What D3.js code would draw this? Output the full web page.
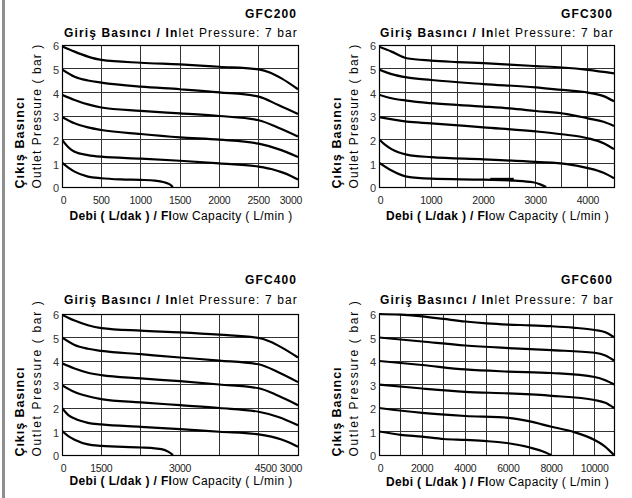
<!DOCTYPE html>
<html>
<head>
<meta charset="utf-8">
<script src="https://cdn.jsdelivr.net/npm/d3@7"></script>
<style>
  html, body { margin: 0; padding: 0; background: #fff; }
  svg { display: block; }
  text { font-family: "Liberation Sans", Arial, Helvetica, sans-serif; }
</style>
</head>
<body>
<svg id="chart" width="632" height="498"></svg>
<script>
// ---------------- DATA ----------------
const titles = ["GFC200", "GFC300", "GFC400", "GFC600"];
const subtitleBold = "Giriş Basıncı / In";
const subtitleNormal = "let Pressure: 7 bar";
const xLabelBold = "Debi ( L/dak ) / Fl";
const xLabelNormal = "ow Capacity ( L/min )";
const yLabelBold = "Çıkış Basıncı";
const yLabelNormal = "Outlet Pressure ( bar )";

const yTicks = [0, 1, 2, 3, 4, 5, 6];
const xMax = [3000, 4500, 3000, 10900];

const xGrid200 = [0, 500, 1000, 1500, 2000, 2500, 3000];
const xGrid300 = [0, 500, 1000, 1500, 2000, 2500, 3000, 3500, 4000, 4500];
const xGrid400 = [0, 500, 1000, 1500, 2000, 2500, 3000];
const xGrid600 = [0, 1000, 2000, 3000, 4000, 5000, 6000, 7000, 8000, 9000, 10000, 10900];

const xTickPos200 = [0, 500, 1000, 1500, 2000, 2500, 3000];
const xTickLab200 = ["0", "500", "1000", "1500", "2000", "2500", "3000"];
const xTickPos300 = [0, 1000, 2000, 3000, 4000];
const xTickLab300 = ["0", "1000", "2000", "3000", "4000"];
const xTickPos400 = [0, 500, 1500, 2590, 3000];
const xTickLab400 = ["0", "1500", "3000", "4500", "3000"];
const xTickPos600 = [0, 2000, 4000, 6000, 8000, 10000];
const xTickLab600 = ["0", "2000", "4000", "6000", "8000", "10000"];

// GFC200 curves (flow L/min, outlet bar)
const gfc200_6 = [[0,5.95],[160,5.72],[330,5.51],[500,5.37],[1000,5.25],[1500,5.18],[2000,5.08],[2500,4.97],[2650,4.83],[2790,4.59],[3000,4.13]];
const gfc200_5 = [[0,4.97],[160,4.66],[330,4.5],[500,4.41],[1000,4.24],[1500,4.13],[2000,4.0],[2500,3.82],[2750,3.46],[3000,3.08]];
const gfc200_4 = [[0,3.9],[160,3.68],[330,3.49],[500,3.36],[1000,3.22],[1500,3.11],[2000,3.0],[2500,2.82],[2750,2.5],[3000,2.13]];
const gfc200_3 = [[0,2.96],[160,2.69],[330,2.52],[500,2.41],[1000,2.24],[1500,2.1],[2000,2.0],[2500,1.83],[2750,1.6],[3000,1.27]];
const gfc200_2 = [[0,2.0],[80,1.68],[160,1.49],[330,1.35],[500,1.28],[1000,1.2],[1500,1.11],[2000,1.0],[2500,0.86],[2660,0.76],[2790,0.63],[2910,0.47],[3000,0.32]];
const gfc200_1 = [[0,1.03],[80,0.82],[160,0.65],[330,0.44],[500,0.37],[750,0.32],[1000,0.3],[1180,0.27],[1300,0.2],[1370,0.11],[1410,0]];

// GFC300 curves
const gfc300_6 = [[0,5.93],[240,5.72],[530,5.44],[1000,5.34],[1500,5.28],[2000,5.23],[2500,5.17],[3000,5.11],[3500,5.05],[4000,4.95],[4500,4.8]];
const gfc300_5 = [[0,4.96],[240,4.77],[530,4.63],[1000,4.52],[2000,4.35],[3000,4.21],[3500,4.1],[4000,3.99],[4300,3.84],[4500,3.62]];
const gfc300_4 = [[0,3.9],[240,3.75],[530,3.65],[1000,3.54],[2000,3.4],[2500,3.32],[3000,3.21],[3600,3.08],[4000,2.9],[4300,2.76],[4500,2.58]];
const gfc300_3 = [[0,2.95],[530,2.76],[1000,2.69],[2000,2.52],[3000,2.35],[3500,2.23],[4000,2.06],[4300,1.85],[4500,1.6]];
const gfc300_2 = [[0,2.02],[120,1.78],[240,1.6],[530,1.37],[1000,1.26],[2000,1.17],[3000,1.06],[3600,0.97],[4000,0.8],[4300,0.6],[4500,0.37]];
const gfc300_1 = [[0,1.03],[240,0.7],[530,0.44],[1000,0.35],[2000,0.31],[2600,0.27],[2950,0.2],[3100,0.1],[3200,0]];
const gfc300_mark = [[2130,0.32],[2580,0.32]];

// GFC400 curves (axis as printed: 0 .. 3000)
const gfc400_6 = [[0,5.97],[160,5.72],[330,5.52],[500,5.4],[1000,5.29],[1500,5.22],[2000,5.12],[2500,4.98],[2650,4.82],[2790,4.58],[3000,4.15]];
const gfc400_5 = [[0,5.0],[160,4.68],[330,4.52],[500,4.43],[1000,4.29],[1500,4.15],[2000,4.02],[2500,3.86],[2750,3.52],[3000,3.1]];
const gfc400_4 = [[0,3.9],[160,3.68],[330,3.5],[500,3.4],[1000,3.26],[1500,3.14],[2000,3.0],[2500,2.84],[2750,2.52],[3000,2.12]];
const gfc400_3 = [[0,2.97],[160,2.68],[330,2.5],[500,2.38],[1000,2.24],[1500,2.12],[2000,2.0],[2500,1.84],[2750,1.62],[3000,1.27]];
const gfc400_2 = [[0,2.0],[80,1.7],[160,1.55],[330,1.37],[500,1.3],[1000,1.2],[1500,1.1],[2000,0.99],[2500,0.88],[2660,0.78],[2790,0.66],[2910,0.5],[3000,0.35]];
const gfc400_1 = [[0,1.03],[80,0.8],[160,0.65],[330,0.45],[500,0.39],[1000,0.32],[1180,0.28],[1300,0.22],[1360,0.12],[1410,0]];

// GFC600 curves
const gfc600_6 = [[0,6.0],[1000,5.97],[2000,5.9],[3000,5.79],[4000,5.68],[5000,5.6],[6000,5.55],[7000,5.52],[8000,5.48],[9000,5.42],[10000,5.32],[10500,5.22],[10900,5.01]];
const gfc600_5 = [[0,5.0],[2000,4.83],[4000,4.66],[6000,4.55],[8000,4.46],[10000,4.35],[10500,4.23],[10900,4.02]];
const gfc600_4 = [[0,4.0],[2000,3.83],[4000,3.64],[6000,3.55],[8000,3.49],[10000,3.32],[10500,3.18],[10900,3.0]];
const gfc600_3 = [[0,3.0],[2000,2.83],[4000,2.69],[6000,2.62],[8000,2.52],[10000,2.34],[10500,2.22],[10900,2.0]];
const gfc600_2 = [[0,2.0],[2000,1.79],[4000,1.66],[6000,1.58],[7000,1.43],[8000,1.2],[9000,0.99],[10000,0.64],[10500,0.35],[10900,0]];
const gfc600_1 = [[0,1.0],[1000,0.86],[2000,0.78],[3000,0.68],[4000,0.64],[5000,0.59],[6000,0.5],[7000,0.32],[7700,0.12],[7980,0]];

// ---------------- LAYOUT ----------------
const layout = [
  {left: 62, right: 298, top: 45, bottom: 187, titleY: 17.5, subY: 36.7, xLabY: 220, yLen: 145, yBoldLen: 92},
  {left: 379, right: 614, top: 45, bottom: 187, titleY: 17.5, subY: 36.7, xLabY: 220, yLen: 145, yBoldLen: 92},
  {left: 62, right: 298, top: 314, bottom: 455, titleY: 284, subY: 304.3, xLabY: 485, yLen: 157, yBoldLen: 90},
  {left: 379, right: 614, top: 314, bottom: 455, titleY: 284, subY: 304.3, xLabY: 486, yLen: 157, yBoldLen: 90}
];

const panels = [
  {grid: xGrid200, tickPos: xTickPos200, tickLab: xTickLab200, curves: [gfc200_1, gfc200_2, gfc200_3, gfc200_4, gfc200_5, gfc200_6], marks: []},
  {grid: xGrid300, tickPos: xTickPos300, tickLab: xTickLab300, curves: [gfc300_1, gfc300_2, gfc300_3, gfc300_4, gfc300_5, gfc300_6], marks: [gfc300_mark]},
  {grid: xGrid400, tickPos: xTickPos400, tickLab: xTickLab400, curves: [gfc400_1, gfc400_2, gfc400_3, gfc400_4, gfc400_5, gfc400_6], marks: []},
  {grid: xGrid600, tickPos: xTickPos600, tickLab: xTickLab600, curves: [gfc600_1, gfc600_2, gfc600_3, gfc600_4, gfc600_5, gfc600_6], marks: []}
];

// ---------------- DRAW ----------------
const svg = d3.select("#chart");
svg.append("rect").attr("x", 0).attr("y", 0).attr("width", 632).attr("height", 498).attr("fill", "#fff");
svg.append("rect").attr("x", 2).attr("y", 0).attr("width", 3).attr("height", 498).attr("fill", "#8e8e8e");

function fitText(t, target) {
  const w = t.node().getComputedTextLength();
  const n = t.text().length;
  if (n > 1) t.attr("letter-spacing", ((target - w) / n).toFixed(3));
}
const crisp = v => Math.round(v - 0.5) + 0.5;

panels.forEach((p, i) => {
  const L = layout[i];
  const x = d3.scaleLinear().domain([0, xMax[i]]).range([L.left, L.right]);
  const y = d3.scaleLinear().domain([0, 6]).range([L.bottom, L.top]);
  const g = svg.append("g");

  const clipId = "clip" + i;
  svg.append("clipPath").attr("id", clipId).append("rect")
    .attr("x", L.left).attr("y", L.top - 2).attr("width", L.right - L.left + 1).attr("height", L.bottom - L.top + 3);

  // grid
  g.selectAll("line.vg").data(p.grid).join("line")
    .attr("x1", d => crisp(x(d))).attr("x2", d => crisp(x(d)))
    .attr("y1", L.top).attr("y2", L.bottom)
    .attr("stroke", "#333").attr("stroke-width", 1);
  g.selectAll("line.hg").data(yTicks).join("line")
    .attr("y1", d => crisp(y(d))).attr("y2", d => crisp(y(d)))
    .attr("x1", L.left).attr("x2", L.right)
    .attr("stroke", "#333").attr("stroke-width", 1);

  // border
  g.append("rect")
    .attr("x", crisp(x(0))).attr("y", crisp(y(6)))
    .attr("width", crisp(x(xMax[i])) - crisp(x(0))).attr("height", crisp(y(0)) - crisp(y(6)))
    .attr("fill", "none").attr("stroke", "#000").attr("stroke-width", 1.2);

  // curves
  const line = d3.line().x(d => x(d[0])).y(d => y(d[1])).curve(d3.curveMonotoneX);
  const cg = g.append("g").attr("clip-path", `url(#${clipId})`);
  cg.selectAll("path.curve").data(p.curves).join("path")
    .attr("d", line).attr("fill", "none").attr("stroke", "#000")
    .attr("stroke-width", 2.2).attr("stroke-linejoin", "round");
  cg.selectAll("path.mark").data(p.marks).join("path")
    .attr("d", d3.line().x(d => x(d[0])).y(d => y(d[1])))
    .attr("fill", "none").attr("stroke", "#000").attr("stroke-width", 3.2);

  // y tick labels
  g.selectAll("text.yt").data(yTicks).join("text")
    .attr("x", L.left - 3).attr("y", d => y(d) + 5.4)
    .attr("text-anchor", "end").attr("font-size", 11).attr("fill", "#333")
    .text(d => d);

  // x tick labels
  p.tickPos.forEach((v, k) => {
    const t = g.append("text")
      .attr("y", L.bottom + 16.5).attr("font-size", 10.5).attr("fill", "#222")
      .attr("letter-spacing", -0.3)
      .attr("text-anchor", "middle").attr("x", x(v)).text(p.tickLab[k]);
    const w = t.node().getComputedTextLength();
    if (x(v) + w / 2 > L.right + 4) t.attr("x", L.right + 4 - w / 2);
    if (k === 0) t.attr("x", x(v) + 1.5);
  });

  // title
  const tt = g.append("text").attr("x", L.right - 1).attr("y", L.titleY)
    .attr("text-anchor", "end").attr("font-size", 12).attr("font-weight", "bold")
    .text(titles[i]);
  fitText(tt, 52);

  // subtitle
  const st = g.append("text").attr("x", L.right).attr("y", L.subY)
    .attr("text-anchor", "end").attr("font-size", 12);
  st.append("tspan").attr("font-weight", "bold").text(subtitleBold);
  st.append("tspan").text(subtitleNormal);
  fitText(st, 234);

  // x label
  const xl = g.append("text").attr("x", (L.left + L.right) / 2 + 1).attr("y", L.xLabY)
    .attr("text-anchor", "middle").attr("font-size", 12);
  xl.append("tspan").attr("font-weight", "bold").text(xLabelBold);
  xl.append("tspan").text(xLabelNormal);
  fitText(xl, 223);

  // y labels
  const yb = g.append("text")
    .attr("transform", `translate(${L.left - 38},${L.bottom + 1.5}) rotate(-90)`)
    .attr("text-anchor", "start").attr("font-size", 12.5).attr("font-weight", "bold")
    .text(yLabelBold);
  fitText(yb, L.yBoldLen);
  const yn = g.append("text")
    .attr("transform", `translate(${L.left - 21},${L.bottom + 1.5}) rotate(-90)`)
    .attr("text-anchor", "start").attr("font-size", 12)
    .text(yLabelNormal);
  fitText(yn, L.yLen);
});
</script>
</body>
</html>
